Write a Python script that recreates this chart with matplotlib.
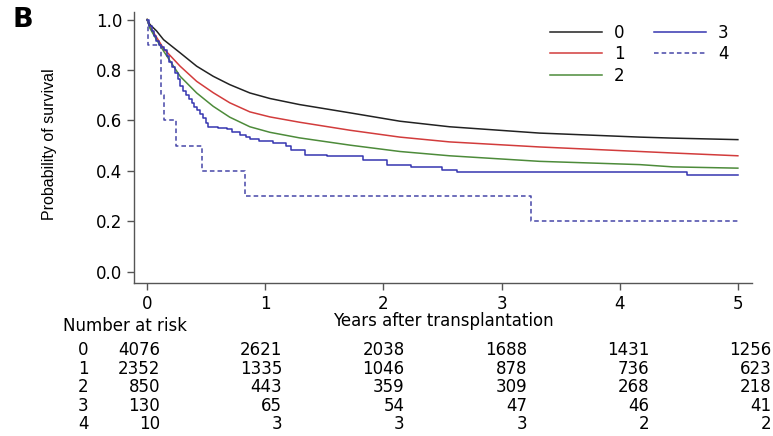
import matplotlib
matplotlib.use("Agg")
import matplotlib.pyplot as plt
from matplotlib.transforms import blended_transform_factory

# --- 1. Data ---

groups = ["0", "1", "2", "3", "4"]

# smooth-looking curves (large groups)
t_smooth = [0, 0.025, 0.08, 0.14, 0.28, 0.42, 0.56, 0.70, 0.87, 1.04, 1.29, 1.72,
            2.14, 2.56, 3.32, 4.17, 4.45, 5.0]
s0 = [1.0, 0.98, 0.955, 0.92, 0.868, 0.815, 0.775, 0.742, 0.709, 0.687, 0.663, 0.63,
      0.597, 0.575, 0.55, 0.534, 0.53, 0.524]
s1 = [1.0, 0.97, 0.93, 0.885, 0.815, 0.755, 0.71, 0.67, 0.634, 0.614, 0.593, 0.561,
      0.534, 0.515, 0.495, 0.477, 0.471, 0.46]
s2 = [1.0, 0.965, 0.92, 0.875, 0.775, 0.709, 0.656, 0.613, 0.575, 0.553, 0.531, 0.502,
      0.477, 0.46, 0.438, 0.425, 0.416, 0.411]

# group 3 (n=130) - visible steps
t3 = [0, 0.02, 0.04, 0.06, 0.08, 0.10, 0.12, 0.14, 0.165, 0.19, 0.215, 0.24, 0.26, 0.28,
      0.305, 0.33, 0.355, 0.38, 0.40, 0.42, 0.445, 0.47, 0.495, 0.52, 0.6, 0.68, 0.72,
      0.79, 0.84, 0.87, 0.95, 1.07, 1.18, 1.22, 1.34, 1.52, 1.83, 2.03, 2.23, 2.5, 2.62,
      4.57, 5.0]
s3 = [1.0, 0.975, 0.955, 0.935, 0.915, 0.90, 0.89, 0.88, 0.855, 0.83, 0.81, 0.79, 0.765,
      0.735, 0.715, 0.70, 0.685, 0.67, 0.655, 0.643, 0.625, 0.61, 0.59, 0.574, 0.57, 0.565,
      0.555, 0.544, 0.535, 0.528, 0.52, 0.51, 0.497, 0.484, 0.464, 0.46, 0.444, 0.425,
      0.415, 0.405, 0.394, 0.384, 0.384]

# group 4 (n=10)
t4 = [0, 0.011, 0.116, 0.147, 0.245, 0.463, 0.83, 3.25, 5.0]
s4 = [1.0, 0.9, 0.7, 0.6, 0.5, 0.4, 0.3, 0.2, 0.2]

risk_times = [0, 1, 2, 3, 4, 5]
at_risk = [
    [4076, 2621, 2038, 1688, 1431, 1256],
    [2352, 1335, 1046, 878, 736, 623],
    [850, 443, 359, 309, 268, 218],
    [130, 65, 54, 47, 46, 41],
    [10, 3, 3, 3, 2, 2],
]

# --- 2. Figure / axes setup ---

plt.rcParams["font.family"] = ["DejaVu Sans"]
fig = plt.figure(figsize=(7.73, 4.36), dpi=100)
ax = fig.add_axes([0.1734, 0.351, 0.7995, 0.6216])

spine_col = "#555555"
for side in ["top", "right"]:
    ax.spines[side].set_visible(False)
for side in ["left", "bottom"]:
    ax.spines[side].set_color(spine_col)
    ax.spines[side].set_linewidth(1.0)

fs = 12

# --- 3. Survival curves ---

lw = 1.1
ax.plot(t_smooth, s0, color="#222222", lw=lw, label=groups[0])
ax.plot(t_smooth, s1, color="#d23c3c", lw=lw, label=groups[1])
ax.plot(t_smooth, s2, color="#4d8b3a", lw=lw, label=groups[2])
ax.plot(t3, s3, color="#3535b0", lw=lw, drawstyle="steps-post", label=groups[3])
ax.plot(t4, s4, color="#4646a8", lw=lw, ls=(0, (3, 2)), drawstyle="steps-post", label=groups[4])

ax.set_xlim(-0.11, 5.12)
ax.set_ylim(-0.044, 1.03)
ax.set_xticks(risk_times)
ax.set_yticks([0.0, 0.2, 0.4, 0.6, 0.8, 1.0])
ax.set_yticklabels(["%.1f" % v for v in ax.get_yticks()])
ax.tick_params(axis="both", direction="out", length=5, width=1, color=spine_col,
               labelsize=fs, pad=3.5)

ax.set_ylabel("Probability of survival", family="Liberation Sans", fontsize=11.5)
ax.yaxis.set_label_coords(-0.125, 0.511)
ax.set_xlabel("Years after transplantation", fontsize=fs)
ax.xaxis.set_label_coords(0.5, -0.108)

# --- 4. Legend ---

ax.legend(loc="upper left", bbox_to_anchor=(0.673, 0.956), ncol=2, frameon=False,
          fontsize=fs, handlelength=3.1, handletextpad=0.75, columnspacing=1.75,
          labelspacing=0.2, borderpad=0, borderaxespad=0)

# --- 5. Number at risk table ---

trans = blended_transform_factory(ax.transData, fig.transFigure)
fig.text(63 / 773, 1 - 326 / 436, "Number at risk", fontsize=fs, va="center", ha="left")

row_y0 = 1 - 350 / 436
row_dy = 18.5 / 436
for i, row in enumerate(at_risk):
    y = row_y0 - i * row_dy
    ax.text(-0.54, y, groups[i], transform=trans, fontsize=fs, ha="center", va="center")
    for t, n in zip(risk_times, row):
        ax.text(t * 1.035 + 0.11, y, str(n), transform=trans, fontsize=fs,
                ha="right", va="center")

# --- 6. Panel letter ---

fig.text(13 / 773, 1 - 27 / 436, "B", fontsize=19.5, fontweight="bold", ha="left", va="baseline")

fig.savefig("out.png", dpi=100)
